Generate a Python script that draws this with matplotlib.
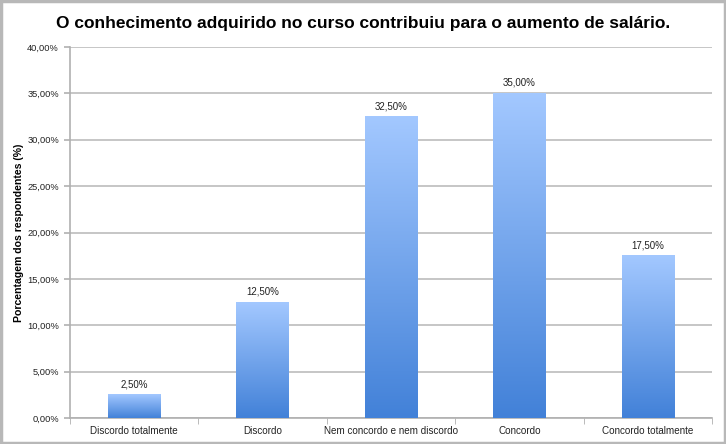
import numpy as np
import matplotlib
matplotlib.use("Agg")
import matplotlib.pyplot as plt
from matplotlib.colors import LinearSegmentedColormap

plt.rcParams["font.family"] = ["Liberation Sans", "DejaVu Sans"]

categories = ["Discordo totalmente", "Discordo", "Nem concordo e nem discordo",
              "Concordo", "Concordo totalmente"]
values = [2.5, 12.5, 32.5, 35.0, 17.5]
yticks = [0, 5, 10, 15, 20, 25, 30, 35, 40]

title = "O conhecimento adquirido no curso contribuiu para o aumento de salário."
ylabel = "Porcentagem dos respondentes (%)"


def pct(v):
    return f"{v:.2f}%".replace(".", ",")


fig = plt.figure(figsize=(7.26, 4.44), dpi=100)
ax = fig.add_axes([0.0964, 0.0586, 0.8846, 0.8354])

x = np.arange(len(categories))
bars = ax.bar(x, values, width=0.41, color="none", zorder=3)

# vertical gradient inside each bar, light at the top
cmap = LinearSegmentedColormap.from_list("grad", ["#4281d8", "#a3c8ff"])
grad = np.linspace(0, 1, 256).reshape(-1, 1)
for b in bars:
    x0, y0 = b.get_x(), b.get_y()
    ax.imshow(grad, cmap=cmap, origin="lower", aspect="auto", zorder=3,
              extent=[x0, x0 + b.get_width(), y0, y0 + b.get_height()])

for xi, v in zip(x, values):
    ax.text(xi, v + 0.6, pct(v), ha="center", va="bottom", fontsize=7, color="#222222")

ax.set_xlim(-0.5, len(categories) - 0.5)
ax.set_ylim(0, 40)
ax.set_yticks(yticks)
ax.set_yticklabels([pct(t) for t in yticks], fontsize=6.7, color="#222222")
ax.set_xticks(x)
ax.set_xticklabels(categories, fontsize=7.1, color="#222222")
ax.set_xticks(np.arange(len(categories) + 1) - 0.5, minor=True)
ax.tick_params(axis="x", which="major", length=0, pad=6)
ax.tick_params(axis="x", which="minor", length=4, color="#b0b0b0")
ax.tick_params(axis="y", length=4, color="#b0b0b0", width=1.2, pad=4)

ax.yaxis.grid(True, color="#bcbcbc", linewidth=1.2, zorder=0)
ax.set_axisbelow(True)
for s in ["top", "right"]:
    ax.spines[s].set_visible(False)
ax.spines["left"].set_color("#b0b0b0")
ax.spines["bottom"].set_color("#b0b0b0")
ax.spines["left"].set_linewidth(1.2)
ax.spines["bottom"].set_linewidth(1.2)

ax.set_ylabel(ylabel, fontsize=7.6, fontweight="bold")
ax.yaxis.set_label_coords(-0.072, 0.5)
fig.text(0.5, 0.948, title, ha="center", va="center", fontsize=12.5, fontweight="bold")

# grey frame around the whole figure
fig.patches.append(plt.Rectangle((0.002, 0.003), 0.996, 0.994, transform=fig.transFigure,
                                 fill=False, edgecolor="#b8b8b8", linewidth=2.5))

fig.savefig("out.png", dpi=100)
